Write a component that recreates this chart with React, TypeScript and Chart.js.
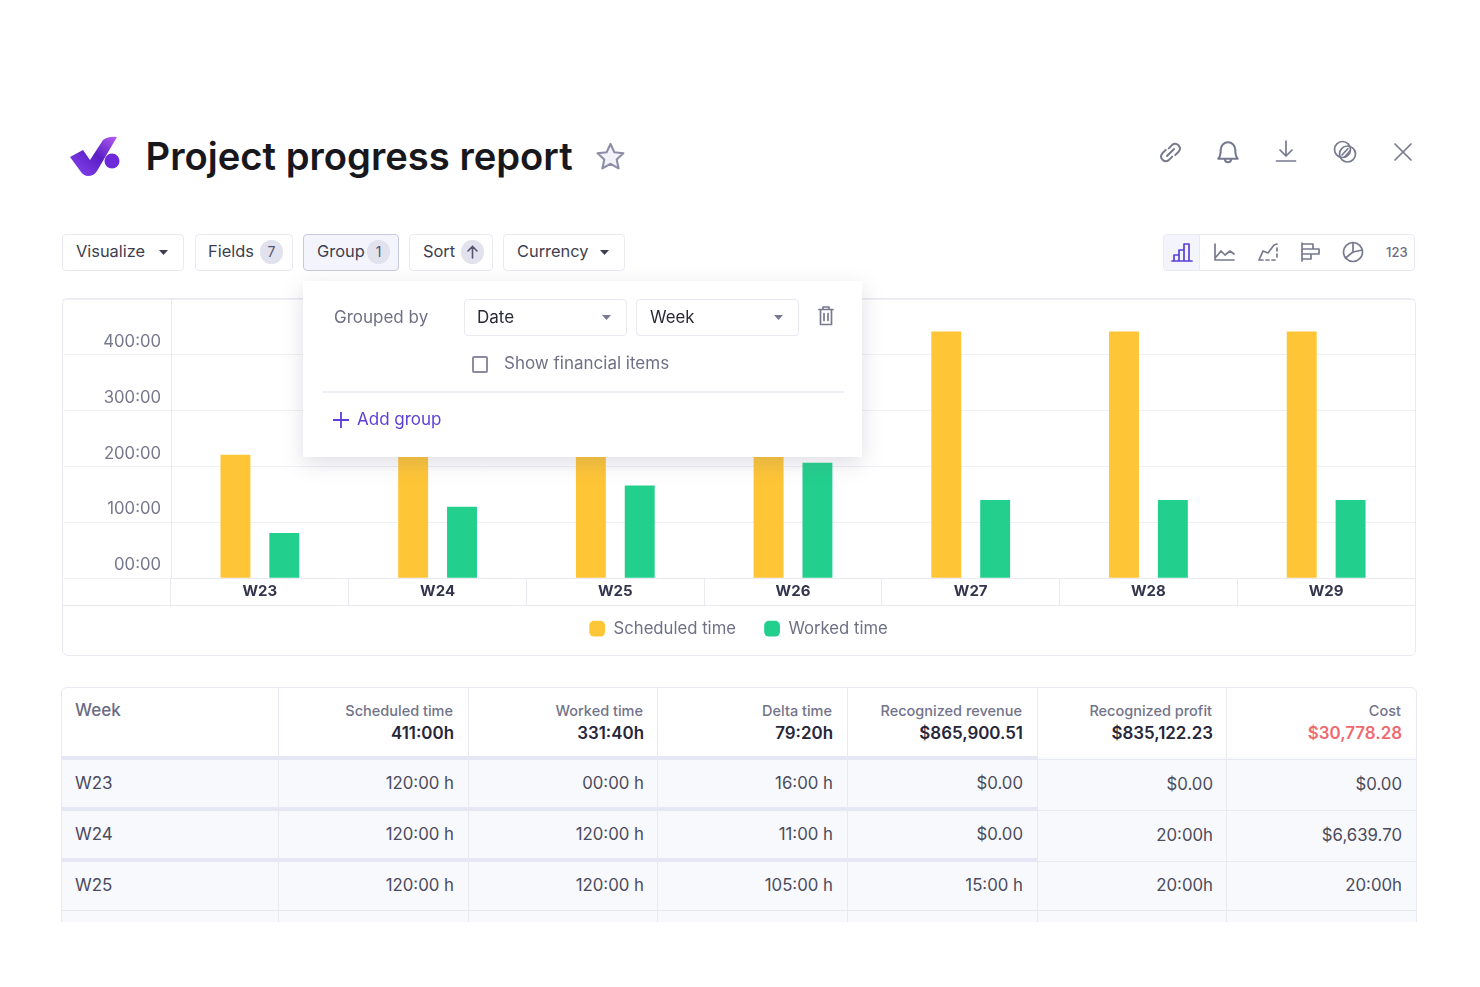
import React, { useEffect, useRef } from 'react';
import { Chart, registerables } from 'chart.js';

Chart.register(...registerables);
Chart.defaults.font.family = 'Inter';

const weeks = ['W23', 'W24', 'W25', 'W26', 'W27', 'W28', 'W29'];
const scheduledTime = [221, 240, 240, 240, 442, 442, 442];
const workedTime = [81, 128, 166, 207, 140, 140, 140];
const yTickLabels = ['00:00', '100:00', '200:00', '300:00', '400:00'];

const toolbarLeft = ['Visualize', 'Fields', 'Group', 'Sort', 'Currency'];
const tableColumns = ['Scheduled time', 'Worked time', 'Delta time', 'Recognized revenue', 'Recognized profit', 'Cost'];
const tableTotals = ['411:00h', '331:40h', '79:20h', '$865,900.51', '$835,122.23', '$30,778.28'];
const tableWeeks = ['W23', 'W24', 'W25'];
const tableRows = [
  ['120:00 h', '00:00 h', '16:00 h', '$0.00', '$0.00', '$0.00'],
  ['120:00 h', '120:00 h', '11:00 h', '$0.00', '20:00h', '$6,639.70'],
  ['120:00 h', '120:00 h', '105:00 h', '15:00 h', '20:00h', '20:00h'],
];

const LINE = '#e9eaf1';
const ICON = '#77798f';
const colEdges = [278, 468, 657, 847, 1037, 1226];
const colRight = [454, 644, 833, 1023, 1213, 1402];

// text anchored on its vertical centre
const T: React.FC<any> = ({ x, y, right, size = 17, color = '#3d3e50', weight = 400, children }) => (
  <div
    style={{
      position: 'absolute',
      left: right ? undefined : x,
      right: right ? 1480 - right : undefined,
      top: y,
      transform: 'translateY(-50%)',
      fontSize: size,
      fontWeight: weight,
      color,
      whiteSpace: 'nowrap',
      lineHeight: 1.2,
    }}
  >
    {children}
  </div>
);

const Box: React.FC<any> = ({ x, y, w, h, style, children }) => (
  <div style={{ position: 'absolute', left: x, top: y, width: w, height: h, boxSizing: 'border-box', ...style }}>
    {children}
  </div>
);

const Button: React.FC<any> = ({ x, w, active }) => (
  <Box
    x={x}
    y={234}
    w={w}
    h={37}
    style={{
      border: `1.5px solid ${active ? '#c6cade' : LINE}`,
      borderRadius: 4,
      background: active ? '#f4f5fc' : '#fff',
    }}
  />
);

const Badge: React.FC<any> = ({ x, children }) => (
  <Box
    x={x}
    y={240}
    w={23}
    h={24}
    style={{
      borderRadius: 12,
      background: '#e1e2ed',
      color: '#55566c',
      fontSize: 14,
      textAlign: 'center',
      lineHeight: '24px',
    }}
  >
    {children}
  </Box>
);

const Caret: React.FC<any> = ({ x, y, color = '#3d3e50' }) => (
  <svg style={{ position: 'absolute', left: x - 6, top: y - 3 }} width={12} height={7}>
    <path d="M1 1 H10 L5.5 6 Z" fill={color} />
  </svg>
);

const Icon: React.FC<any> = ({ cx, cy, size = 28, color = ICON, children }) => (
  <svg
    style={{ position: 'absolute', left: cx - size / 2, top: cy - size / 2 }}
    width={size}
    height={size}
    viewBox="0 0 28 28"
    fill="none"
    stroke={color}
    strokeWidth={1.7}
    strokeLinecap="round"
    strokeLinejoin="round"
  >
    {children}
  </svg>
);

const BarsChart: React.FC = () => {
  const chartRef = useRef<HTMLCanvasElement>(null);

  useEffect(() => {
    if (!chartRef.current) return;
    const chart = new Chart(chartRef.current, {
      type: 'bar',
      data: {
        labels: weeks,
        datasets: [
          {
            label: 'Scheduled time',
            data: scheduledTime,
            backgroundColor: '#fec536',
            categoryPercentage: 0.55,
            barPercentage: 0.612,
          },
          {
            label: 'Worked time',
            data: workedTime,
            backgroundColor: '#22cf8c',
            categoryPercentage: 0.55,
            barPercentage: 0.612,
          },
        ],
      },
      options: {
        animation: false,
        responsive: true,
        maintainAspectRatio: false,
        layout: { padding: { top: 1, right: 1, bottom: 9, left: 0 } },
        plugins: {
          tooltip: { enabled: false },
          legend: {
            position: 'bottom',
            labels: {
              usePointStyle: true,
              pointStyle: 'rectRounded',
              boxWidth: 16,
              boxHeight: 13,
              color: '#6f7086',
              font: { size: 16.7 },
              padding: 14,
              // wider gap between items without adding height to the legend
              generateLabels: (c) =>
                Chart.defaults.plugins.legend.labels.generateLabels(c).map((item, i) => ({
                  ...item,
                  text: i === 0 ? item.text + '   ' : item.text,
                })),
            },
          },
        },
        scales: {
          x: {
            grid: { color: LINE, tickLength: 28, offset: true, drawOnChartArea: false },
            border: { color: LINE },
            ticks: { color: '#34344e', font: { size: 15, weight: 'bold' }, padding: -24 },
            afterFit: (s) => {
              s.height = 28;
              s.paddingLeft = 0;
              s.paddingRight = 0;
            },
          },
          y: {
            min: 0,
            max: 500,
            grid: { color: '#eeeff4', tickLength: 109 },
            border: { color: LINE },
            ticks: {
              stepSize: 100,
              color: '#77788c',
              font: { size: 16.7 },
              padding: -99,
              labelOffset: -13,
              callback: (value) => yTickLabels[Number(value) / 100] ?? '',
            },
            afterFit: (s) => {
              s.width = 109;
              s.paddingTop = 0;
              s.paddingBottom = 0;
            },
          },
        },
      },
    });
    return () => chart.destroy();
  }, []);

  return (
    <Box x={62} y={298} w={1354} h={358}>
      <canvas ref={chartRef}></canvas>
    </Box>
  );
};

export default function App() {
  useEffect(() => {
    document.body.style.margin = '0';
    document.body.style.background = '#fff';
  }, []);

  return (
    <div style={{ position: 'relative', width: 1480, height: 987, overflow: 'hidden', fontFamily: 'Inter', background: '#fff' }}>
      {/* Header */}
      <svg style={{ position: 'absolute', left: 60, top: 130 }} width={70} height={55} viewBox="60 130 70 55">
        <defs>
          <linearGradient id="logo" x1="0" y1="1" x2="1" y2="0">
            <stop offset="0" stopColor="#8b46f0" />
            <stop offset="0.55" stopColor="#5a1fc4" />
            <stop offset="1" stopColor="#b65cf5" />
          </linearGradient>
        </defs>
        <path d="M70 157 L83 150 L90 160 L103 140 Q109 136 117 137 L97 171 Q94 176 88 176 Q84 176 81 172 Z" fill="url(#logo)" />
        <circle cx={112} cy={161} r={7.5} fill="#6d28d9" />
      </svg>
      <T x={145.5} y={157} size={38.2} weight={600} color="#17171c">Project progress report</T>
      <svg style={{ position: 'absolute', left: 594, top: 140 }} width={33} height={33} viewBox="0 0 24 24">
        <path d="M12 2.8 L14.8 8.9 L21.4 9.6 L16.5 14.1 L17.9 20.7 L12 17.3 L6.1 20.7 L7.5 14.1 L2.6 9.6 L9.2 8.9 Z" fill="#f2f2f8" stroke="#8b8ca6" strokeWidth={1.5} strokeLinejoin="round" />
      </svg>

      <Icon cx={1170} cy={152} size={33}>
        <path d="M12.5 10.5 L15.5 7.5 a4 4 0 0 1 5.6 5.6 L18 16.2" />
        <path d="M15.5 17.5 L12.5 20.5 a4 4 0 0 1 -5.6 -5.6 L10 11.8" />
        <path d="M11 17 L17 11" />
      </Icon>
      <Icon cx={1228} cy={152} size={34}>
        <path d="M6 19.5 C8 17.5 8 15 8 12 a6 6 0 0 1 12 0 C20 15 20 17.5 22 19.5 Z" />
        <path d="M11.5 20 a2.5 2.5 0 0 0 5 0" />
      </Icon>
      <Icon cx={1286} cy={152}>
        <path d="M14 3 V18 M8 12 L14 18 L20 12" />
        <path d="M4.5 23 H23.5" />
      </Icon>
      <Icon cx={1345} cy={152}>
        <circle cx={11.5} cy={11.5} r={8} />
        <circle cx={16.5} cy={16} r={8} />
        <path d="M11 17 L17 10.5 M14 18.5 L19 13" />
      </Icon>
      <Icon cx={1403} cy={152}>
        <path d="M6 6 L22 22 M22 6 L6 22" />
      </Icon>

      {/* Toolbar */}
      <Button x={62} w={122} />
      <Button x={195} w={98} />
      <Button x={303} w={96} active />
      <Button x={409} w={84} />
      <Button x={503} w={122} />
      <T x={76} y={252} size={16.4}>{toolbarLeft[0]}</T>
      <Caret x={164} y={252} />
      <T x={208} y={252} size={16.4}>{toolbarLeft[1]}</T>
      <Badge x={260}>7</Badge>
      <T x={317} y={252} size={16.4}>{toolbarLeft[2]}</T>
      <Badge x={367}>1</Badge>
      <T x={423} y={252} size={16.4}>{toolbarLeft[3]}</T>
      <Badge x={461}> </Badge>
      <svg style={{ position: 'absolute', left: 461, top: 240 }} width={23} height={24} fill="none" stroke="#55566c" strokeWidth={1.6} strokeLinecap="round">
        <path d="M11.5 18 V6.5 M7 11 L11.5 6.5 L16 11" />
      </svg>
      <T x={517} y={252} size={16.4}>{toolbarLeft[4]}</T>
      <Caret x={605} y={252} />

      <Box x={1163} y={234} w={252} h={37} style={{ border: `1.5px solid ${LINE}`, borderRadius: 4 }} />
      <Box x={1164} y={235} w={36} h={35} style={{ background: '#f3f4fc', borderRight: `1px solid ${LINE}`, borderRadius: '4px 0 0 4px' }} />
      <Icon cx={1182} cy={252} color="#5b3fd6">
        <path d="M4 23 H24 M6 23 V17 H11 V23 M11 23 V12 H16 V23 M16 23 V6 H21 V23" />
      </Icon>
      <Icon cx={1224} cy={252}>
        <path d="M5 6 V22 H24 M6 19 L11 13 L15 17 L20 13 L24 16" />
      </Icon>
      <Icon cx={1268} cy={252}>
        <path d="M5 22 L9 13 L14 15 L20 7 L23 6" />
        <path d="M6 22 H23 M23 10 V22" strokeDasharray="3 3" />
      </Icon>
      <Icon cx={1310} cy={252}>
        <path d="M6 5 V23 M6 6 H17 V11 H6 M6 11 H23 V16 H6 M6 16 H15 V21 H6" />
      </Icon>
      <Icon cx={1353} cy={252}>
        <circle cx={14} cy={14} r={9.5} />
        <path d="M14 4.5 V14 L6.5 20 M14 14 L23.5 12" />
      </Icon>
      <T x={1386} y={253} size={13} color="#6b6c82" weight={500}>123</T>

      {/* Chart panel */}
      <Box x={62} y={298} w={1354} h={358} style={{ border: `1.5px solid ${LINE}`, borderRadius: 6 }} />
      <BarsChart />
      <Box x={62} y={605} w={1354} h={1} style={{ background: LINE }} />

      {/* Group popover */}
      <Box x={303} y={281} w={559} h={176} style={{ background: '#fff', boxShadow: '0 6px 20px rgba(110,110,135,0.22)' }} />
      <T x={334} y={317} color="#6f7086">Grouped by</T>
      <Box x={464} y={299} w={163} h={37} style={{ border: `1.5px solid ${LINE}`, borderRadius: 4 }} />
      <T x={477} y={317} color="#2a2a36">Date</T>
      <Caret x={607} y={317} color="#77798f" />
      <Box x={636} y={299} w={163} h={37} style={{ border: `1.5px solid ${LINE}`, borderRadius: 4 }} />
      <T x={650} y={317} color="#2a2a36" size={16.8}>Week</T>
      <Caret x={779} y={317} color="#77798f" />
      <Icon cx={826} cy={316}>
        <path d="M7 7.5 H21 M11 7.5 V5 H17 V7.5 M8.5 7.5 V22.5 H19.5 V7.5 M12 11.5 V18.5 M16 11.5 V18.5" />
      </Icon>
      <Box x={472} y={356} w={16} h={17} style={{ border: '2px solid #8b8ca0', borderRadius: 2 }} />
      <T x={504} y={363} color="#6f7086">Show financial items</T>
      <Box x={322} y={391} w={522} h={2} style={{ background: '#eeeff4' }} />
      <svg style={{ position: 'absolute', left: 332, top: 411 }} width={18} height={18} stroke="#5b3fd6" strokeWidth={1.8}>
        <path d="M1 9 H17 M9 1 V17" />
      </svg>
      <T x={357} y={419} color="#5b3fd6">Add group</T>

      {/* Table, cut off at the bottom of the picture */}
      <Box x={61} y={687} w={1356} h={235} style={{ overflow: 'hidden' }}>
        <Box x={0} y={70} w={1356} h={165} style={{ background: '#f8f9fd' }} />
        <Box x={0} y={0} w={1356} h={240} style={{ border: `1.5px solid ${LINE}`, borderRadius: 6 }} />
        {[69, 120, 171].map((y) => (
          <Box key={y} x={0} y={y} w={976} h={4} style={{ background: '#e5e7f4' }} />
        ))}
        {[72, 123, 174].map((y) => (
          <Box key={y} x={976} y={y} w={380} h={1} style={{ background: LINE }} />
        ))}
        <Box x={0} y={223} w={1356} h={1} style={{ background: '#e6e7ef' }} />
        {colEdges.map((x) => (
          <Box key={x} x={x - 61} y={0} w={1} h={235} style={{ background: LINE }} />
        ))}
      </Box>
      <T x={75} y={710} color="#6a6b85" weight={500}>Week</T>
      {tableColumns.map((name, i) => (
        <T key={name} right={colRight[i] - 1} y={711} size={14.5} weight={500} color="#72738b">{name}</T>
      ))}
      {tableTotals.map((total, i) => (
        <T key={total} right={colRight[i]} y={733} size={16.9} weight={600} color={i === 5 ? '#ee6a6f' : '#26263a'}>{total}</T>
      ))}
      {tableWeeks.map((week, r) => (
        <T key={week} x={75} y={783 + r * 51} color="#4a4b5c">{week}</T>
      ))}
      {tableRows.map((row, r) =>
        row.map((cell, i) => (
          <T key={`${r}-${i}`} right={colRight[i]} y={783 + r * 51 + (i > 3 && r < 2 ? 1 : 0)} size={16.8} color="#4a4b5c">{cell}</T>
        ))
      )}
    </div>
  );
}
